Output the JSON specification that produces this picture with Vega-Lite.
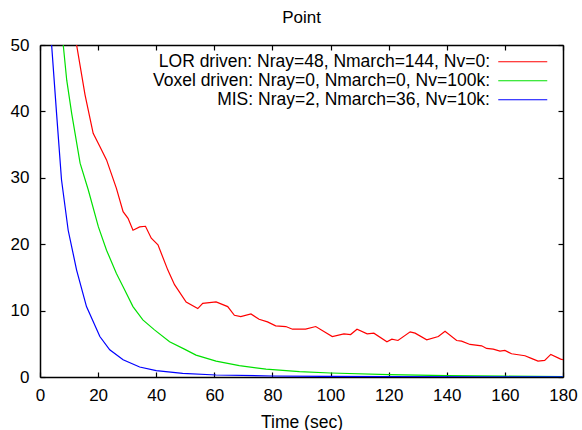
{
  "$schema": "https://vega.github.io/schema/vega-lite/v6.json",
  "width": 523,
  "height": 332,
  "autosize": "none",
  "padding": {"left": 40, "top": 45, "right": 19, "bottom": 53},
  "background": "white",
  "title": {"text": "Point", "fontSize": 17, "fontWeight": "normal", "font": "Liberation Sans", "color": "#000", "offset": 9, "anchor": "middle"},
  "config": {
    "view": {"stroke": null},
    "axis": {"labelFont": "Liberation Sans", "labelFontSize": 17, "labelColor": "#000", "titleFont": "Liberation Sans", "titleFontSize": 17.5, "titleFontWeight": "normal", "titleColor": "#000", "domainColor": "#000", "domainWidth": 1.5, "tickColor": "#000", "tickWidth": 1.2, "tickSize": -5, "grid": false, "labelFlush": false, "labelOverlap": false},
    "legend": {"labelFont": "Liberation Sans", "labelFontSize": 17.5, "labelColor": "#000"}
  },
  "data": {"values": [
    {"s": "LOR driven: Nray=48, Nmarch=144, Nv=0:", "t": 10, "v": 58},
    {"s": "LOR driven: Nray=48, Nmarch=144, Nv=0:", "t": 12.6, "v": 50},
    {"s": "LOR driven: Nray=48, Nmarch=144, Nv=0:", "t": 15.5, "v": 42.5},
    {"s": "LOR driven: Nray=48, Nmarch=144, Nv=0:", "t": 18.3, "v": 36.7},
    {"s": "LOR driven: Nray=48, Nmarch=144, Nv=0:", "t": 20.6, "v": 34.7},
    {"s": "LOR driven: Nray=48, Nmarch=144, Nv=0:", "t": 22.9, "v": 32.7},
    {"s": "LOR driven: Nray=48, Nmarch=144, Nv=0:", "t": 26.3, "v": 28.4},
    {"s": "LOR driven: Nray=48, Nmarch=144, Nv=0:", "t": 28.6, "v": 24.9},
    {"s": "LOR driven: Nray=48, Nmarch=144, Nv=0:", "t": 30.3, "v": 23.9},
    {"s": "LOR driven: Nray=48, Nmarch=144, Nv=0:", "t": 32, "v": 22.1},
    {"s": "LOR driven: Nray=48, Nmarch=144, Nv=0:", "t": 34.3, "v": 22.6},
    {"s": "LOR driven: Nray=48, Nmarch=144, Nv=0:", "t": 36.3, "v": 22.7},
    {"s": "LOR driven: Nray=48, Nmarch=144, Nv=0:", "t": 38.3, "v": 20.9},
    {"s": "LOR driven: Nray=48, Nmarch=144, Nv=0:", "t": 40.6, "v": 19.9},
    {"s": "LOR driven: Nray=48, Nmarch=144, Nv=0:", "t": 44, "v": 16.1},
    {"s": "LOR driven: Nray=48, Nmarch=144, Nv=0:", "t": 46.3, "v": 13.9},
    {"s": "LOR driven: Nray=48, Nmarch=144, Nv=0:", "t": 50.3, "v": 11.3},
    {"s": "LOR driven: Nray=48, Nmarch=144, Nv=0:", "t": 54.3, "v": 10.3},
    {"s": "LOR driven: Nray=48, Nmarch=144, Nv=0:", "t": 56, "v": 11.1},
    {"s": "LOR driven: Nray=48, Nmarch=144, Nv=0:", "t": 60.6, "v": 11.3},
    {"s": "LOR driven: Nray=48, Nmarch=144, Nv=0:", "t": 64.6, "v": 10.6},
    {"s": "LOR driven: Nray=48, Nmarch=144, Nv=0:", "t": 66.9, "v": 9.3},
    {"s": "LOR driven: Nray=48, Nmarch=144, Nv=0:", "t": 69.1, "v": 9.1},
    {"s": "LOR driven: Nray=48, Nmarch=144, Nv=0:", "t": 72.6, "v": 9.5},
    {"s": "LOR driven: Nray=48, Nmarch=144, Nv=0:", "t": 75.4, "v": 8.7},
    {"s": "LOR driven: Nray=48, Nmarch=144, Nv=0:", "t": 78.3, "v": 8.3},
    {"s": "LOR driven: Nray=48, Nmarch=144, Nv=0:", "t": 81.1, "v": 7.7},
    {"s": "LOR driven: Nray=48, Nmarch=144, Nv=0:", "t": 84.6, "v": 7.6},
    {"s": "LOR driven: Nray=48, Nmarch=144, Nv=0:", "t": 86.9, "v": 7.2},
    {"s": "LOR driven: Nray=48, Nmarch=144, Nv=0:", "t": 91.4, "v": 7.2},
    {"s": "LOR driven: Nray=48, Nmarch=144, Nv=0:", "t": 94.9, "v": 7.6},
    {"s": "LOR driven: Nray=48, Nmarch=144, Nv=0:", "t": 100.6, "v": 6.1},
    {"s": "LOR driven: Nray=48, Nmarch=144, Nv=0:", "t": 104.6, "v": 6.5},
    {"s": "LOR driven: Nray=48, Nmarch=144, Nv=0:", "t": 106.9, "v": 6.4},
    {"s": "LOR driven: Nray=48, Nmarch=144, Nv=0:", "t": 109.1, "v": 7.2},
    {"s": "LOR driven: Nray=48, Nmarch=144, Nv=0:", "t": 112.6, "v": 6.5},
    {"s": "LOR driven: Nray=48, Nmarch=144, Nv=0:", "t": 114.9, "v": 6.6},
    {"s": "LOR driven: Nray=48, Nmarch=144, Nv=0:", "t": 119.4, "v": 5.3},
    {"s": "LOR driven: Nray=48, Nmarch=144, Nv=0:", "t": 121.1, "v": 5.7},
    {"s": "LOR driven: Nray=48, Nmarch=144, Nv=0:", "t": 123.2, "v": 5.5},
    {"s": "LOR driven: Nray=48, Nmarch=144, Nv=0:", "t": 127.4, "v": 6.8},
    {"s": "LOR driven: Nray=48, Nmarch=144, Nv=0:", "t": 129.1, "v": 6.6},
    {"s": "LOR driven: Nray=48, Nmarch=144, Nv=0:", "t": 133.1, "v": 5.6},
    {"s": "LOR driven: Nray=48, Nmarch=144, Nv=0:", "t": 137.1, "v": 6.1},
    {"s": "LOR driven: Nray=48, Nmarch=144, Nv=0:", "t": 139.4, "v": 6.9},
    {"s": "LOR driven: Nray=48, Nmarch=144, Nv=0:", "t": 143.4, "v": 5.5},
    {"s": "LOR driven: Nray=48, Nmarch=144, Nv=0:", "t": 145.1, "v": 5.4},
    {"s": "LOR driven: Nray=48, Nmarch=144, Nv=0:", "t": 148, "v": 4.9},
    {"s": "LOR driven: Nray=48, Nmarch=144, Nv=0:", "t": 152, "v": 4.7},
    {"s": "LOR driven: Nray=48, Nmarch=144, Nv=0:", "t": 153.7, "v": 4.3},
    {"s": "LOR driven: Nray=48, Nmarch=144, Nv=0:", "t": 156, "v": 4.2},
    {"s": "LOR driven: Nray=48, Nmarch=144, Nv=0:", "t": 158.3, "v": 3.9},
    {"s": "LOR driven: Nray=48, Nmarch=144, Nv=0:", "t": 160, "v": 4.0},
    {"s": "LOR driven: Nray=48, Nmarch=144, Nv=0:", "t": 162.3, "v": 3.5},
    {"s": "LOR driven: Nray=48, Nmarch=144, Nv=0:", "t": 166.9, "v": 3.2},
    {"s": "LOR driven: Nray=48, Nmarch=144, Nv=0:", "t": 169.1, "v": 2.8},
    {"s": "LOR driven: Nray=48, Nmarch=144, Nv=0:", "t": 171.4, "v": 2.4},
    {"s": "LOR driven: Nray=48, Nmarch=144, Nv=0:", "t": 173.7, "v": 2.5},
    {"s": "LOR driven: Nray=48, Nmarch=144, Nv=0:", "t": 175.8, "v": 3.4},
    {"s": "LOR driven: Nray=48, Nmarch=144, Nv=0:", "t": 179.2, "v": 2.7},
    {"s": "LOR driven: Nray=48, Nmarch=144, Nv=0:", "t": 180, "v": 2.6},
    {"s": "Voxel driven: Nray=0, Nmarch=0, Nv=100k:", "t": 7, "v": 56},
    {"s": "Voxel driven: Nray=0, Nmarch=0, Nv=100k:", "t": 8, "v": 50},
    {"s": "Voxel driven: Nray=0, Nmarch=0, Nv=100k:", "t": 9.2, "v": 44.7},
    {"s": "Voxel driven: Nray=0, Nmarch=0, Nv=100k:", "t": 10.9, "v": 39.7},
    {"s": "Voxel driven: Nray=0, Nmarch=0, Nv=100k:", "t": 13.8, "v": 32.2},
    {"s": "Voxel driven: Nray=0, Nmarch=0, Nv=100k:", "t": 16.6, "v": 28.2},
    {"s": "Voxel driven: Nray=0, Nmarch=0, Nv=100k:", "t": 20.1, "v": 22.6},
    {"s": "Voxel driven: Nray=0, Nmarch=0, Nv=100k:", "t": 22.9, "v": 19.1},
    {"s": "Voxel driven: Nray=0, Nmarch=0, Nv=100k:", "t": 26.3, "v": 15.6},
    {"s": "Voxel driven: Nray=0, Nmarch=0, Nv=100k:", "t": 28.6, "v": 13.6},
    {"s": "Voxel driven: Nray=0, Nmarch=0, Nv=100k:", "t": 32, "v": 10.6},
    {"s": "Voxel driven: Nray=0, Nmarch=0, Nv=100k:", "t": 35.4, "v": 8.6},
    {"s": "Voxel driven: Nray=0, Nmarch=0, Nv=100k:", "t": 39.4, "v": 7.1},
    {"s": "Voxel driven: Nray=0, Nmarch=0, Nv=100k:", "t": 44.6, "v": 5.3},
    {"s": "Voxel driven: Nray=0, Nmarch=0, Nv=100k:", "t": 49.7, "v": 4.2},
    {"s": "Voxel driven: Nray=0, Nmarch=0, Nv=100k:", "t": 53.7, "v": 3.3},
    {"s": "Voxel driven: Nray=0, Nmarch=0, Nv=100k:", "t": 60.6, "v": 2.4},
    {"s": "Voxel driven: Nray=0, Nmarch=0, Nv=100k:", "t": 68.6, "v": 1.7},
    {"s": "Voxel driven: Nray=0, Nmarch=0, Nv=100k:", "t": 77.8, "v": 1.2},
    {"s": "Voxel driven: Nray=0, Nmarch=0, Nv=100k:", "t": 89.3, "v": 0.8},
    {"s": "Voxel driven: Nray=0, Nmarch=0, Nv=100k:", "t": 100, "v": 0.6},
    {"s": "Voxel driven: Nray=0, Nmarch=0, Nv=100k:", "t": 120, "v": 0.35},
    {"s": "Voxel driven: Nray=0, Nmarch=0, Nv=100k:", "t": 140, "v": 0.2},
    {"s": "Voxel driven: Nray=0, Nmarch=0, Nv=100k:", "t": 160, "v": 0.12},
    {"s": "Voxel driven: Nray=0, Nmarch=0, Nv=100k:", "t": 180, "v": 0.07},
    {"s": "MIS: Nray=2, Nmarch=36, Nv=10k:", "t": 3.3, "v": 58},
    {"s": "MIS: Nray=2, Nmarch=36, Nv=10k:", "t": 4, "v": 50},
    {"s": "MIS: Nray=2, Nmarch=36, Nv=10k:", "t": 5.7, "v": 39.7},
    {"s": "MIS: Nray=2, Nmarch=36, Nv=10k:", "t": 7.4, "v": 29.7},
    {"s": "MIS: Nray=2, Nmarch=36, Nv=10k:", "t": 9.7, "v": 22.1},
    {"s": "MIS: Nray=2, Nmarch=36, Nv=10k:", "t": 12.6, "v": 16.1},
    {"s": "MIS: Nray=2, Nmarch=36, Nv=10k:", "t": 16, "v": 10.6},
    {"s": "MIS: Nray=2, Nmarch=36, Nv=10k:", "t": 20.6, "v": 6.1},
    {"s": "MIS: Nray=2, Nmarch=36, Nv=10k:", "t": 24, "v": 4.1},
    {"s": "MIS: Nray=2, Nmarch=36, Nv=10k:", "t": 28.6, "v": 2.6},
    {"s": "MIS: Nray=2, Nmarch=36, Nv=10k:", "t": 34.3, "v": 1.5},
    {"s": "MIS: Nray=2, Nmarch=36, Nv=10k:", "t": 40, "v": 0.95},
    {"s": "MIS: Nray=2, Nmarch=36, Nv=10k:", "t": 49.1, "v": 0.55},
    {"s": "MIS: Nray=2, Nmarch=36, Nv=10k:", "t": 60.6, "v": 0.3},
    {"s": "MIS: Nray=2, Nmarch=36, Nv=10k:", "t": 80, "v": 0.15},
    {"s": "MIS: Nray=2, Nmarch=36, Nv=10k:", "t": 100, "v": 0.08},
    {"s": "MIS: Nray=2, Nmarch=36, Nv=10k:", "t": 120, "v": 0.05},
    {"s": "MIS: Nray=2, Nmarch=36, Nv=10k:", "t": 150, "v": 0.03},
    {"s": "MIS: Nray=2, Nmarch=36, Nv=10k:", "t": 180, "v": 0.02}
  ]},
  "layer": [
    {
      "mark": {"type": "line", "strokeWidth": 1.2, "clip": true},
      "encoding": {
        "x": {"field": "t", "type": "quantitative", "scale": {"domain": [0, 180], "nice": false, "zero": false},
              "axis": {"orient": "bottom", "values": [0,20,40,60,80,100,120,140,160,180], "title": "Time (sec)", "labelPadding": 15, "titlePadding": 10}},
        "y": {"field": "v", "type": "quantitative", "scale": {"domain": [0, 50], "nice": false},
              "axis": {"orient": "left", "values": [0,10,20,30,40,50], "title": null, "labelPadding": 16}},
        "color": {"field": "s", "type": "nominal",
          "scale": {"domain": ["LOR driven: Nray=48, Nmarch=144, Nv=0:", "Voxel driven: Nray=0, Nmarch=0, Nv=100k:", "MIS: Nray=2, Nmarch=36, Nv=10k:"], "range": ["#ff0000", "#00e000", "#0000ff"]},
          "legend": {"orient": "none", "legendX": 474, "legendY": 8, "title": null, "symbolType": "M-3.5,0H3.5", "symbolSize": 196, "symbolStrokeWidth": 1.2, "labelAlign": "right", "labelOffset": -41.5, "labelLimit": 0, "rowPadding": 0, "padding": 0}}
      }
    },
    {
      "mark": {"type": "line", "opacity": 0, "clip": true},
      "encoding": {
        "x": {"field": "t", "type": "quantitative", "axis": {"orient": "top", "values": [0,20,40,60,80,100,120,140,160,180], "labels": false, "title": null}},
        "y": {"field": "v", "type": "quantitative", "axis": {"orient": "right", "values": [0,10,20,30,40,50], "labels": false, "title": null}}
      }
    }
  ],
  "resolve": {"axis": {"x": "independent", "y": "independent"}}
}
